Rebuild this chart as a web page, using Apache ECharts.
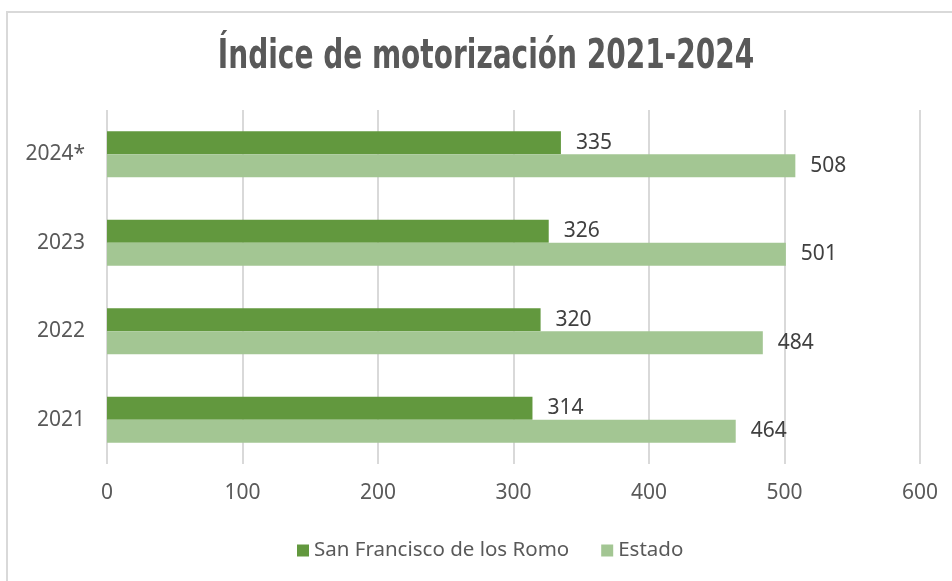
<!DOCTYPE html>
<html>
<head>
<meta charset="utf-8">
<script src="https://cdn.jsdelivr.net/npm/echarts@6/dist/echarts.min.js"></script>
<style>
  html, body { margin: 0; padding: 0; background: #fff; }
  #main { width: 952px; height: 581px; }
</style>
</head>
<body>
<div id="main"></div>
<script>
// datos del gráfico
const years = ['2021', '2022', '2023', '2024*'];
const sanFrancisco = [314, 320, 326, 335];
const estado = [464, 484, 501, 508];
const xTicks = [0, 100, 200, 300, 400, 500, 600];

const chart = echarts.init(document.getElementById('main'));

const labelStyle = {
  show: true,
  position: 'right',
  distance: 15,
  color: '#404040',
  fontSize: 21,
  fontFamily: 'Noto Sans, sans-serif'
};

const option = {
  backgroundColor: '#ffffff',
  animation: false,
  graphic: [
    {
      type: 'rect',
      left: 6, top: 11,
      shape: { width: 960, height: 600 },
      style: { fill: '#ffffff', stroke: '#d9d9d9', lineWidth: 2 },
      z: -10
    },
    {
      // título condensado
      type: 'text',
      x: 486, y: 58,
      scaleX: 0.7,
      style: {
        text: 'Índice de motorización 2021-2024',
        fill: '#595959',
        font: 'bold 40px "DejaVu Sans", sans-serif',
        align: 'center',
        verticalAlign: 'middle'
      }
    }
  ],
  legend: {
    data: ['San Francisco de los Romo', 'Estado'],
    bottom: 15,
    left: 292,
    icon: 'rect',
    itemWidth: 12,
    itemHeight: 12,
    itemGap: 32,
    textStyle: { color: '#595959', fontSize: 20.5, fontFamily: 'Noto Sans, sans-serif' }
  },
  grid: {
    left: 107,
    right: 32,
    top: 110,
    bottom: 117,
    containLabel: false
  },
  xAxis: {
    type: 'value',
    min: 0,
    max: 600,
    interval: 100,
    axisLine: { show: false },
    axisTick: { show: false },
    splitLine: { lineStyle: { color: '#d9d9d9', width: 2 } },
    axisLabel: {
      color: '#595959',
      fontSize: 21,
      margin: 19,
      fontFamily: 'Noto Sans, sans-serif',
      formatter: v => xTicks.includes(v) ? String(v) : ''
    }
  },
  yAxis: {
    type: 'category',
    data: years,
    axisLine: { show: false },
    axisTick: { show: false },
    axisLabel: {
      color: '#595959',
      fontSize: 21,
      margin: 22,
      fontFamily: 'Noto Sans, sans-serif'
    }
  },
  series: [
    {
      name: 'San Francisco de los Romo',
      type: 'bar',
      data: sanFrancisco,
      barWidth: 23,
      barGap: '0%',
      itemStyle: { color: '#62983e' },
      label: labelStyle
    },
    {
      name: 'Estado',
      type: 'bar',
      data: estado,
      barWidth: 23,
      barGap: '0%',
      itemStyle: { color: '#a3c693' },
      label: labelStyle
    }
  ]
};

option && chart.setOption(option);
</script>
</body>
</html>
